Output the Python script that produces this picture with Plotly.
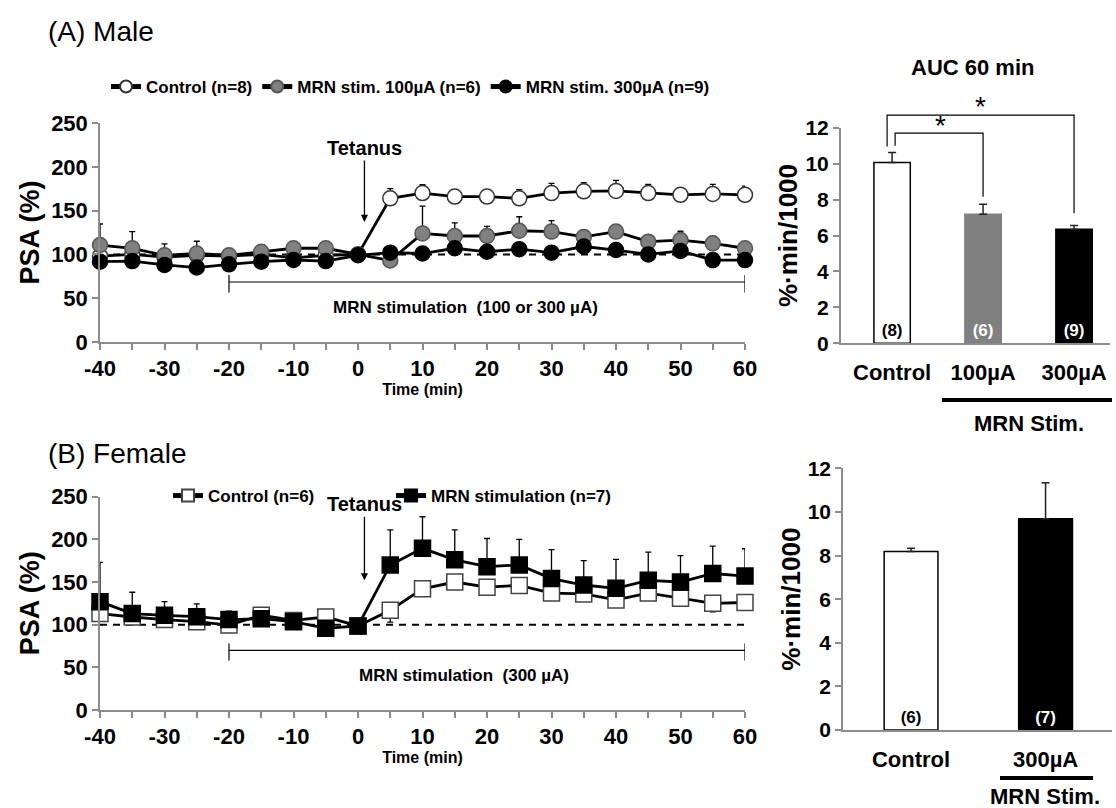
import plotly.graph_objects as go

W, H = 1116, 808
FONT = "Liberation Sans, Arial, sans-serif"

# ---------------- data ----------------
time_min = [-40, -35, -30, -25, -20, -15, -10, -5, 0, 5, 10, 15, 20, 25, 30, 35, 40, 45, 50, 55, 60]
x_tick_text = ["-40", "", "-30", "", "-20", "", "-10", "", "0", "", "10", "", "20", "", "30", "", "40", "", "50", "", "60"]

male_ctrl = [98, 100, 97, 99, 98, 100, 96, 99, 100, 164, 170, 166, 166, 164, 170, 172, 172.5, 170, 168, 169, 168]
male_ctrl_err = [3, 3, 3, 3, 3, 3, 3, 3, 0, 11, 9.5, 6, 7.6, 10, 11, 10, 12, 10, 8, 11, 10]
male_100 = [110.7, 107, 99, 101, 99, 103, 107, 107, 100, 93, 124, 121, 121, 127, 126, 120, 126, 114.5, 116.4, 112.6, 107]
male_100_err = [24, 19, 13, 14, 6, 3, 3, 3, 0, 3, 31, 15, 11, 16, 12.6, 3, 6, 4, 10, 8, 6]
male_300 = [91.7, 92.4, 88, 85, 88.7, 91.7, 93.6, 92.4, 99, 102, 101, 107, 103, 106, 102, 109, 105, 100, 104, 93.5, 93.5]
male_300_err = [3, 3, 3, 3, 3, 3, 3, 3, 0, 3, 3, 3, 3, 3, 3, 3, 3, 3, 3, 3, 3]

female_ctrl = [113, 109, 106, 103.5, 99.6, 111, 105, 109, 98.5, 117, 142, 150, 144, 146, 137, 136, 129, 137, 131, 125, 126]
female_ctrl_err = [6, 3, 3, 3, 3, 3, 3, 3, 0, 14, 4, 4, 4, 4, 4, 4, 8, 4, 4, 10, 4]
female_stim = [127, 113, 111, 109.4, 106, 107, 103.5, 95.7, 98.5, 170, 189.5, 176, 168, 170, 154, 146.5, 142.6, 152, 150, 160, 157]
female_stim_err = [46, 25, 16, 15, 10, 3, 3, 3, 0, 41, 37, 35, 33, 30, 34, 28.5, 34, 33, 31, 32, 32]

baseline = 100
tetanus_time = 1
stim_start, stim_end = -20, 60

auc_male_labels = ["Control", "100µA", "300µA"]
auc_male = [10.06, 7.18, 6.35]
auc_male_err = [0.56, 0.56, 0.2]
auc_male_n = ["(8)", "(6)", "(9)"]

auc_female_labels = ["Control", "300µA"]
auc_female = [8.18, 9.69]
auc_female_err = [0.15, 1.65]
auc_female_n = ["(6)", "(7)"]

# ---------------- helpers ----------------
def px(x):
    return x / W

def py(y):
    return 1 - y / H

def up_err(vals):
    return dict(type="data", array=vals, arrayminus=[0] * len(vals), symmetric=False,
                color="black", thickness=1.3, width=3)

def down_err(vals):
    return dict(type="data", array=[0] * len(vals), arrayminus=vals, symmetric=False,
                color="black", thickness=1.3, width=3)

fig = go.Figure()

# ---------------- male line chart ----------------
line_style = dict(color="black", width=2.8)
fig.add_trace(go.Scatter(x=time_min, y=male_ctrl, error_y=up_err(male_ctrl_err), mode="lines+markers",
                         name="Control (n=8)", line=line_style, cliponaxis=False,
                         marker=dict(symbol="circle", size=15, color="white", line=dict(color="#333", width=1.5)),
                         xaxis="x", yaxis="y", legend="legend"))
fig.add_trace(go.Scatter(x=time_min, y=male_100, error_y=up_err(male_100_err), mode="lines+markers",
                         name="MRN stim. 100µA (n=6)", line=line_style, cliponaxis=False,
                         marker=dict(symbol="circle", size=15, color="#808080", line=dict(color="#555", width=1.5)),
                         xaxis="x", yaxis="y", legend="legend"))
fig.add_trace(go.Scatter(x=time_min, y=male_300, error_y=up_err(male_300_err), mode="lines+markers",
                         name="MRN stim. 300µA (n=9)", line=line_style, cliponaxis=False,
                         marker=dict(symbol="circle", size=15, color="black", line=dict(color="black", width=1.5)),
                         xaxis="x", yaxis="y", legend="legend"))

# ---------------- female line chart ----------------
fig.add_trace(go.Scatter(x=time_min, y=female_ctrl, error_y=down_err(female_ctrl_err), mode="lines+markers",
                         name="Control (n=6)", line=line_style, cliponaxis=False,
                         marker=dict(symbol="square", size=16, color="white", line=dict(color="#444", width=1.5)),
                         xaxis="x2", yaxis="y2", legend="legend2"))
fig.add_trace(go.Scatter(x=time_min, y=female_stim, error_y=up_err(female_stim_err), mode="lines+markers",
                         name="MRN stimulation (n=7)", line=line_style, cliponaxis=False,
                         marker=dict(symbol="square", size=16, color="black", line=dict(color="black", width=1.5)),
                         xaxis="x2", yaxis="y2", legend="legend2"))

# ---------------- bar charts ----------------
fig.add_trace(go.Bar(x=auc_male_labels, y=auc_male, width=0.4, showlegend=False,
                     marker=dict(color=["white", "#808080", "black"],
                                 line=dict(color=["black", "#808080", "black"], width=1.5)),
                     error_y=dict(type="data", array=auc_male_err, arrayminus=[0] * 3, symmetric=False,
                                  color="#222", thickness=1.5, width=4),
                     text=auc_male_n, textposition="inside", insidetextanchor="start", textangle=0,
                     constraintext="none",
                     textfont=dict(family=FONT, size=17, weight="bold", color=["black", "white", "white"]),
                     xaxis="x3", yaxis="y3"))
fig.add_trace(go.Bar(x=auc_female_labels, y=auc_female, width=0.4, showlegend=False,
                     marker=dict(color=["white", "black"], line=dict(color="black", width=1.5)),
                     error_y=dict(type="data", array=auc_female_err, arrayminus=[0] * 2, symmetric=False,
                                  color="#222", thickness=1.5, width=4),
                     text=auc_female_n, textposition="inside", insidetextanchor="start", textangle=0,
                     constraintext="none",
                     textfont=dict(family=FONT, size=17, weight="bold", color=["black", "white"]),
                     xaxis="x4", yaxis="y4"))

# ---------------- axes ----------------
AX = "#8c8c8c"
tickfont = dict(family=FONT, size=22, color="black", weight="bold")

def line_xaxis(anchor):
    return dict(domain=[px(100), px(745)], range=[-40, 60], anchor=anchor, automargin=False,
                tickvals=time_min, ticktext=x_tick_text, ticks="outside", ticklen=6, tickwidth=1.5,
                tickcolor=AX, showline=True, linecolor=AX, linewidth=1.5, showgrid=False, zeroline=False,
                tickfont=tickfont,
                title=dict(text="Time (min)", font=dict(family=FONT, size=16, weight="bold", color="black"),
                           standoff=1))

def line_yaxis(anchor, dom):
    return dict(domain=dom, range=[0, 250], anchor=anchor, dtick=50, ticks="outside", ticklen=6,
                automargin=False,
                tickwidth=1.5, tickcolor=AX, showline=True, linecolor=AX, linewidth=1.5,
                showgrid=False, zeroline=False, tickfont=tickfont,
                title=dict(text="PSA (%)", font=dict(family=FONT, size=27, weight="bold", color="black"),
                           standoff=4))

def bar_yaxis(anchor, dom):
    return dict(domain=dom, range=[0, 12], anchor=anchor, tickvals=[0, 2, 4, 6, 8, 10, 12],
                automargin=False,
                ticks="outside", ticklen=6, tickwidth=1.5, tickcolor=AX, showline=True,
                linecolor=AX, linewidth=1.5, showgrid=False, zeroline=False,
                tickfont=dict(family=FONT, size=21, color="black", weight="bold"),
                title=dict(text="%·min/1000", font=dict(family=FONT, size=26, weight="bold", color="black"),
                           standoff=0))

def bar_xaxis(anchor, dom, rng):
    return dict(domain=dom, range=rng, anchor=anchor, type="category", ticks="", showline=True,
                automargin=False,
                linecolor=AX, linewidth=1.5, showgrid=False, zeroline=False, ticklabelstandoff=9,
                tickfont=dict(family=FONT, size=22, color="black", weight="bold"))

fig.update_layout(
    template="none",
    width=W, height=H, margin=dict(l=0, r=0, t=0, b=0, pad=0, autoexpand=False),
    paper_bgcolor="white", plot_bgcolor="white",
    font=dict(family=FONT, color="black"),
    xaxis=line_xaxis("y"),
    yaxis=line_yaxis("x", [py(342), py(123)]),
    xaxis2=line_xaxis("y2"),
    yaxis2=line_yaxis("x2", [py(710), py(496.7)]),
    xaxis3=bar_xaxis("y3", [px(840.7), px(1110)], [-0.565, 2.395]),
    yaxis3=bar_yaxis("x3", [py(343.3), py(127.7)]),
    xaxis4=bar_xaxis("y4", [px(843), px(1112)], [-0.506, 1.494]),
    yaxis4=bar_yaxis("x4", [py(730), py(468.3)]),
    legend=dict(orientation="h", x=px(106), y=py(87), xanchor="left", yanchor="middle",
                font=dict(family=FONT, size=17, weight="bold", color="black"),
                itemsizing="constant", itemwidth=30, bgcolor="rgba(0,0,0,0)", borderwidth=0),
    legend2=dict(orientation="h", x=px(168), y=py(496), xanchor="left", yanchor="middle",
                 font=dict(family=FONT, size=17, weight="bold", color="black"),
                 itemsizing="constant", itemwidth=30, bgcolor="rgba(0,0,0,0)", borderwidth=0,
                 entrywidth=178),
)

# ---------------- shapes ----------------
shapes = []
for xa, ya in [("x", "y"), ("x2", "y2")]:
    shapes.append(dict(type="line", xref=xa, yref=ya, x0=-40, x1=60, y0=baseline, y1=baseline,
                       line=dict(color="black", width=2, dash="7px,6px"), layer="below"))
# stimulation brackets
for xa, ya, yb in [("x", "y", 68.5), ("x2", "y2", 70)]:
    shapes.append(dict(type="line", xref=xa, yref=ya, x0=stim_start, x1=stim_end, y0=yb, y1=yb,
                       line=dict(color="black", width=1.2)))
    for xe in (stim_start, stim_end):
        shapes.append(dict(type="line", xref=xa, yref=ya, x0=xe, x1=xe, y0=yb - 12, y1=yb + 8,
                           line=dict(color="black", width=1.2)))

# significance brackets on male AUC (y as fraction of the 0..12 axis)
def d3(v):
    return v / 12.0

sig = [(-0.055, 2.0, 12.7, 10.95, 7.24), (0.033, 1.0, 11.7, 11.0, 8.16)]
for xl, xr, ytop, yl, yr in sig:
    path = f"M {xl},{d3(yl)} L {xl},{d3(ytop)} L {xr},{d3(ytop)} L {xr},{d3(yr)}"
    shapes.append(dict(type="path", xref="x3", yref="y3 domain", path=path,
                       line=dict(color="black", width=1.2)))

# MRN Stim. underlines
shapes.append(dict(type="line", xref="paper", yref="paper", x0=px(942), x1=px(1112), y0=py(400), y1=py(400),
                   line=dict(color="black", width=4)))
shapes.append(dict(type="line", xref="paper", yref="paper", x0=px(1000), x1=px(1093), y0=py(778), y1=py(778),
                   line=dict(color="black", width=4)))
fig.update_layout(shapes=shapes)

# ---------------- annotations ----------------
C = dict(xanchor="center", yanchor="middle", showarrow=False)
ann = []
ann.append(dict(text="(A) Male", xref="paper", yref="paper", x=px(46), y=py(31), xanchor="left",
                yanchor="middle", showarrow=False, font=dict(family=FONT, size=28, color="black")))
ann.append(dict(text="(B) Female", xref="paper", yref="paper", x=px(46), y=py(453), xanchor="left",
                yanchor="middle", showarrow=False, font=dict(family=FONT, size=28, color="black")))
ann.append(dict(text="Tetanus", xref="x", yref="y", x=tetanus_time, y=137, ax=0, ay=-74,
                showarrow=True, arrowhead=2, arrowsize=1.1, arrowwidth=1.3, arrowcolor="black",
                font=dict(family=FONT, size=20, weight="bold", color="black")))
ann.append(dict(text="Tetanus", xref="x2", yref="y2", x=tetanus_time, y=152, ax=0, ay=-76,
                showarrow=True, arrowhead=2, arrowsize=1.1, arrowwidth=1.3, arrowcolor="black",
                font=dict(family=FONT, size=20, weight="bold", color="black")))
ann.append(dict(text="MRN stimulation  (100 or 300 µA)", xref="x", yref="y", x=16.7, y=39, **C,
                font=dict(family=FONT, size=17, weight="bold", color="black")))
ann.append(dict(text="MRN stimulation  (300 µA)", xref="x2", yref="y2", x=16.4, y=41, **C,
                font=dict(family=FONT, size=17, weight="bold", color="black")))
ann.append(dict(text="AUC 60 min", xref="paper", yref="paper", x=px(972), y=py(68), **C,
                font=dict(family=FONT, size=22, weight="bold", color="black")))
ann.append(dict(text="*", xref="x3", yref="y3 domain", x=0.967, y=d3(13.2), **C,
                font=dict(family=FONT, size=28, color="black")))
ann.append(dict(text="*", xref="x3", yref="y3 domain", x=0.527, y=d3(12.1), **C,
                font=dict(family=FONT, size=28, color="black")))
ann.append(dict(text="MRN Stim.", xref="paper", yref="paper", x=px(1029), y=py(423), **C,
                font=dict(family=FONT, size=22, weight="bold", color="black")))
ann.append(dict(text="MRN Stim.", xref="paper", yref="paper", x=px(1045), y=py(796), **C,
                font=dict(family=FONT, size=22, weight="bold", color="black")))
fig.update_layout(annotations=ann)

fig.write_html("out.html",
               post_script="document.body.style.margin='0px';document.body.style.overflow='hidden';")
